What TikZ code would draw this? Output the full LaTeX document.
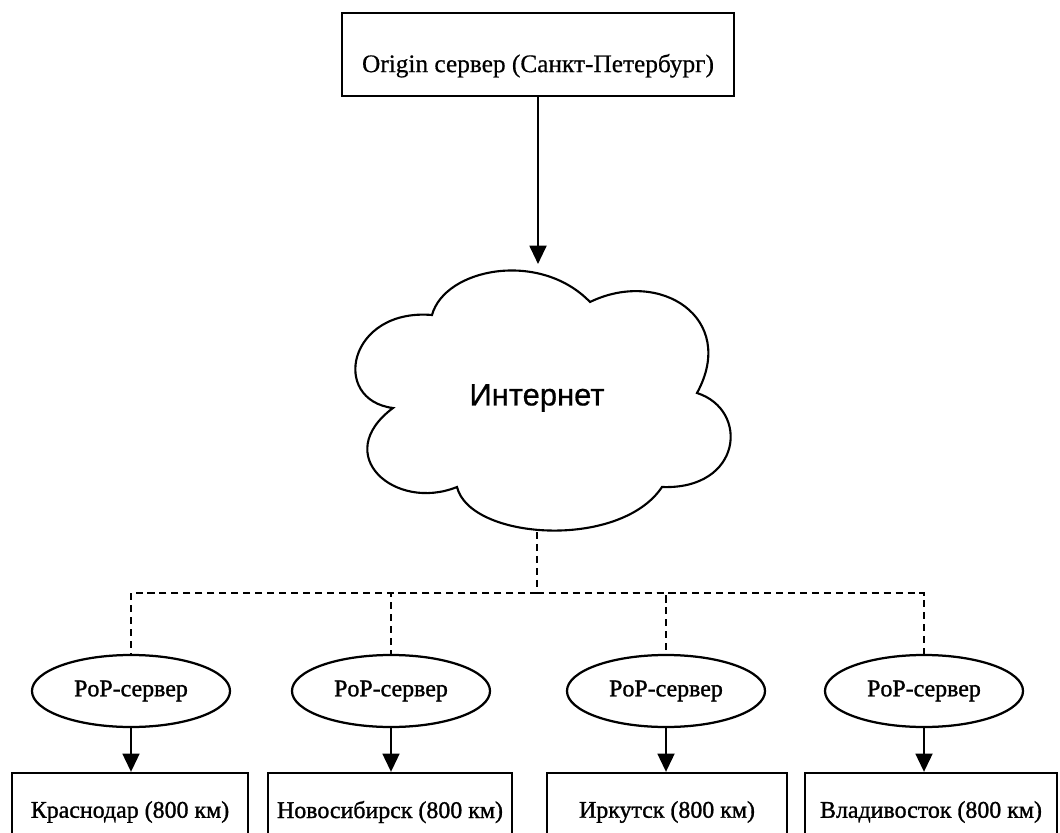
\documentclass[tikz,border=0pt]{standalone}
\usepackage{fontspec}
\setmainfont{Liberation Serif}
\newfontfamily\sansf[FakeBold=0.6]{Liberation Sans}
\newfontfamily\heavyserif[FakeBold=1.2]{Liberation Serif}
\newfontfamily\midserif[FakeBold=0.5]{Liberation Serif}
\usetikzlibrary{arrows.meta,shapes.geometric}
\begin{document}
\begin{tikzpicture}[x=0.025cm,y=-0.025cm,
  line width=1.6pt,
  arr/.style={-{Triangle[width=12pt,length=13pt]}, line width=1.6pt},
  dsh/.style={line width=1.2pt, dash pattern=on 5pt off 3.5pt},
  topbox/.style={draw, rectangle, minimum width=9.8cm, minimum height=2.075cm,
    inner sep=0pt, text height=1.0cm, text depth=0.12cm, font=\midserif\fontsize{18}{20}\selectfont},
  citybox/.style={draw, rectangle, minimum height=1.95cm, inner sep=0pt,
    font=\heavyserif\fontsize{17}{19}\selectfont},
  popnode/.style={draw, ellipse, minimum width=4.95cm, minimum height=1.8cm,
    inner sep=0pt, font=\heavyserif\fontsize{17}{19}\selectfont},
  cloudtext/.style={font=\sansf\fontsize{22}{24}\selectfont}]
\useasboundingbox (0,0) rectangle (1060,833);
\clip (0,0) rectangle (1060,833);
\fill[white] (0,0) rectangle (1060,833);

% top box
\node[topbox] (origin) at (538,54.5) {Origin сервер (Санкт-Петербург)};

% cloud
\draw[line width=1.5pt]
  (432,315) .. controls (445,268) and (540,250) .. (590,302)
  .. controls (660,268) and (738,318) .. (697,393)
  .. controls (750,410) and (742,490) .. (662,487)
  .. controls (620,550) and (470,540) .. (457,487)
  .. controls (395,512) and (330,455) .. (393,408)
  .. controls (330,400) and (348,308) .. (432,315) -- cycle;
\node[cloudtext] (inet) at (537,398) {Интернет};
\coordinate (cloudtop) at (538,264);
\coordinate (cloudbot) at (537,532);
\coordinate (bus) at (537,593);

\draw[arr] (origin.south) -- (cloudtop);

% PoP servers
\node[popnode] (pop1) at (131,691) {PoP-сервер};
\node[popnode] (pop2) at (391,691) {PoP-сервер};
\node[popnode] (pop3) at (666,691) {PoP-сервер};
\node[popnode] (pop4) at (924,691) {PoP-сервер};

\draw[dsh] (cloudbot) -- (bus);
\draw[dsh] (bus) -| (pop1.north);
\draw[dsh] (bus) -| (pop2.north);
\draw[dsh] (bus) -| (pop3.north);
\draw[dsh] (bus) -| (pop4.north);

% cities
\node[citybox, minimum width=5.9cm] (c1) at (130,812) {Краснодар (800 км)};
\node[citybox, minimum width=6.1cm] (c2) at (390,812) {Новосибирск (800 км)};
\node[citybox, minimum width=6.0cm] (c3) at (667,812) {Иркутск (800 км)};
\node[citybox, minimum width=6.3cm] (c4) at (931,812) {Владивосток (800 км)};

\draw[arr] (pop1.south) -- (pop1.south |- c1.north);
\draw[arr] (pop2.south) -- (pop2.south |- c2.north);
\draw[arr] (pop3.south) -- (pop3.south |- c3.north);
\draw[arr] (pop4.south) -- (pop4.south |- c4.north);
\end{tikzpicture}
\end{document}
